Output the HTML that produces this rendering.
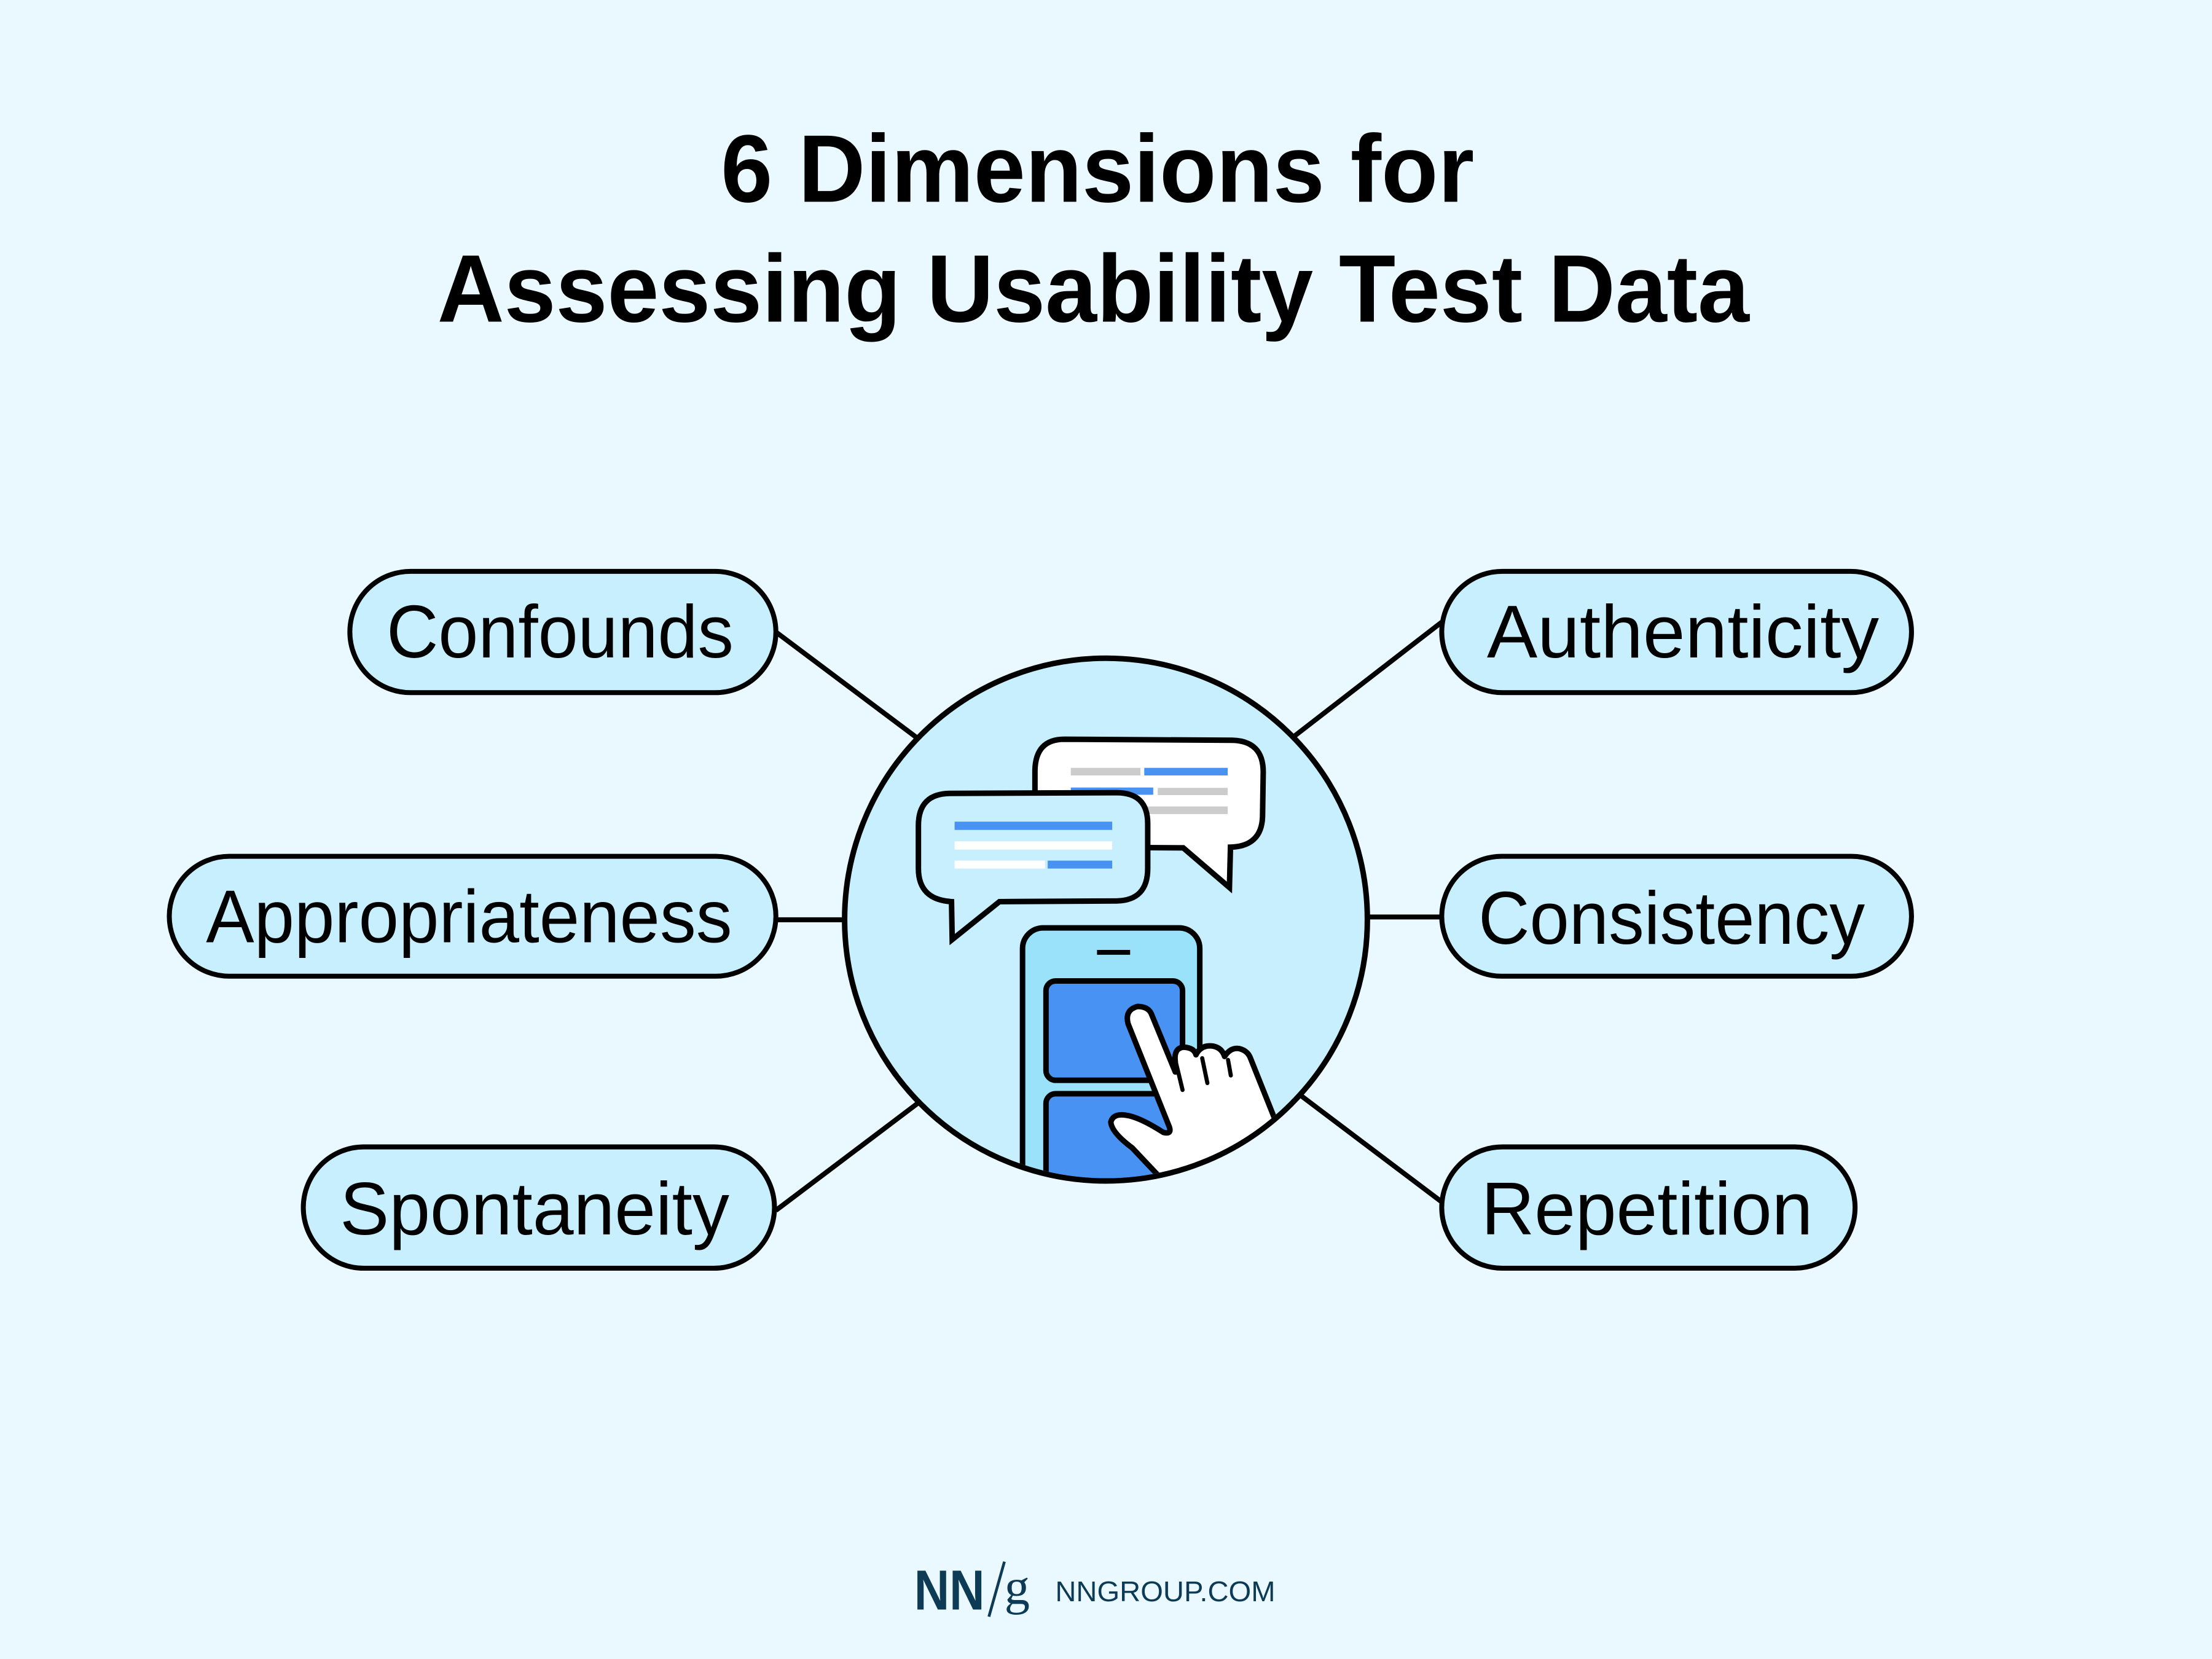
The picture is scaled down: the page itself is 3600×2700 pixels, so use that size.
<!DOCTYPE html>
<html><head><meta charset="utf-8"><style>
html,body{margin:0;padding:0;background:#eaf8ff;}
svg{display:block;}
</style></head><body>
<svg width="3600" height="2700" viewBox="0 0 3600 2700" xmlns="http://www.w3.org/2000/svg">
<rect width="3600" height="2700" fill="#eaf8ff"/>
<g transform="scale(2.2959)">
  <g font-family="Liberation Sans, sans-serif" font-weight="bold" fill="#000" font-size="68">
    <text x="511" y="143" textLength="534" lengthAdjust="spacingAndGlyphs">6 Dimensions for</text>
    <text x="310" y="228" textLength="930" lengthAdjust="spacingAndGlyphs">Assessing Usability Test Data</text>
  </g>
  <g stroke="#000" stroke-width="3.5" fill="none">
    <line x1="550" y1="448" x2="650" y2="523"/>
    <line x1="550" y1="652" x2="600" y2="652"/>
    <line x1="550" y1="858" x2="652" y2="781"/>
    <line x1="1022" y1="441" x2="916" y2="523"/>
    <line x1="968" y1="650" x2="1022" y2="650"/>
    <line x1="920" y1="775" x2="1022" y2="852"/>
  </g>
  <g fill="#c8effd" stroke="#000" stroke-width="3.5">
    <rect x="248" y="405" width="302" height="86" rx="43"/>
    <rect x="120" y="607" width="430" height="85" rx="42.5"/>
    <rect x="215" y="813" width="334" height="86" rx="43"/>
    <rect x="1022" y="405" width="333" height="86" rx="43"/>
    <rect x="1022" y="607" width="333" height="85" rx="42.5"/>
    <rect x="1022" y="813" width="293" height="86" rx="43"/>
  </g>
  <g font-family="Liberation Sans, sans-serif" font-size="53" fill="#000">
    <text x="274" y="466" textLength="246" lengthAdjust="spacingAndGlyphs">Confounds</text>
    <text x="146" y="668" textLength="373" lengthAdjust="spacingAndGlyphs">Appropriateness</text>
    <text x="241" y="875" textLength="276" lengthAdjust="spacingAndGlyphs">Spontaneity</text>
    <text x="1054" y="466" textLength="278" lengthAdjust="spacingAndGlyphs">Authenticity</text>
    <text x="1048" y="669" textLength="274" lengthAdjust="spacingAndGlyphs">Consistency</text>
    <text x="1050" y="875" textLength="235" lengthAdjust="spacingAndGlyphs">Repetition</text>
  </g>
  <g fill="#0d3b55">
    <text x="648" y="1141" font-family="Liberation Sans, sans-serif" font-weight="bold" font-size="40" textLength="50" lengthAdjust="spacingAndGlyphs">NN</text>
    <line x1="712" y1="1107" x2="701" y2="1146" stroke="#0d3b55" stroke-width="2"/>
    <text x="712" y="1137" font-family="Liberation Serif, serif" font-size="36">g</text>
    <text x="748" y="1135" font-family="Liberation Sans, sans-serif" font-size="20" textLength="156" lengthAdjust="spacingAndGlyphs">NNGROUP.COM</text>
  </g>
</g>
<defs>
  <clipPath id="cc"><circle cx="784" cy="778" r="750"/></clipPath>
</defs>
<g transform="translate(1360,1060) scale(0.5612)">
  <circle cx="784" cy="778" r="758" fill="#c8effd" stroke="#000" stroke-width="0"/>
  <!-- back bubble -->
  <g stroke="#000" stroke-width="16" fill="#fff" stroke-linejoin="miter">
    <path d="M663,255 L1150,258 Q1240,260 1240,350 L1238,480 Q1235,565 1145,568 L1142,685 L1008,570 L665,568 Q578,565 578,480 L578,345 Q580,255 663,255 Z"/>
  </g>
  <rect x="682" y="338" width="202" height="22" fill="#cccccc"/>
  <rect x="895" y="338" width="242" height="22" fill="#4792f2"/>
  <rect x="682" y="395" width="239" height="21" fill="#4792f2"/>
  <rect x="934" y="396" width="203" height="21" fill="#cccccc"/>
  <rect x="682" y="450" width="455" height="22" fill="#cccccc"/>
  <!-- front bubble -->
  <path d="M330,412 L815,410 Q905,410 905,500 L905,630 Q905,722 815,724 L475,726 L338,836 L336,726 Q240,720 240,630 L240,505 Q240,414 330,412 Z" fill="#c8effd" stroke="#000" stroke-width="16"/>
  <rect x="345" y="494" width="457" height="24" fill="#4792f2"/>
  <rect x="345" y="551" width="457" height="24" fill="#fff"/>
  <rect x="345" y="607" width="262" height="23" fill="#fff"/>
  <rect x="615" y="607" width="187" height="23" fill="#4792f2"/>
  <g clip-path="url(#cc)">
    <rect x="542" y="802" width="514" height="900" rx="60" fill="#99e2f9" stroke="#000" stroke-width="16"/>
    <rect x="758" y="866" width="96" height="14" fill="#000"/>
    <rect x="610" y="956" width="396" height="288" rx="28" fill="#4792f2" stroke="#000" stroke-width="16"/>
    <rect x="610" y="1283" width="396" height="320" rx="28" fill="#4792f2" stroke="#000" stroke-width="16"/>
    <path d="M945,1530 L860,1440 Q800,1395 798,1365 Q805,1340 840,1345 Q880,1350 950,1395 Q975,1402 968,1380 L848,1080 Q838,1040 875,1030 Q905,1030 915,1050 L985,1220 L985,1190 Q980,1150 1010,1148 Q1040,1150 1045,1170 Q1060,1140 1095,1145 Q1120,1150 1128,1175 Q1145,1148 1170,1152 Q1195,1158 1203,1180 L1275,1360 L1320,1600 L945,1600 Z" fill="#fff" stroke="#000" stroke-width="16" stroke-linejoin="round"/>
    <g stroke="#000" stroke-width="12" stroke-linecap="round" fill="none">
      <path d="M985,1185 L1006,1272"/>
      <path d="M1063,1180 L1078,1252"/>
      <path d="M1138,1185 L1146,1230"/>
    </g>
  </g>
  <circle cx="784" cy="778" r="758" fill="none" stroke="#000" stroke-width="16"/>
</g>
</svg>
</body></html>
